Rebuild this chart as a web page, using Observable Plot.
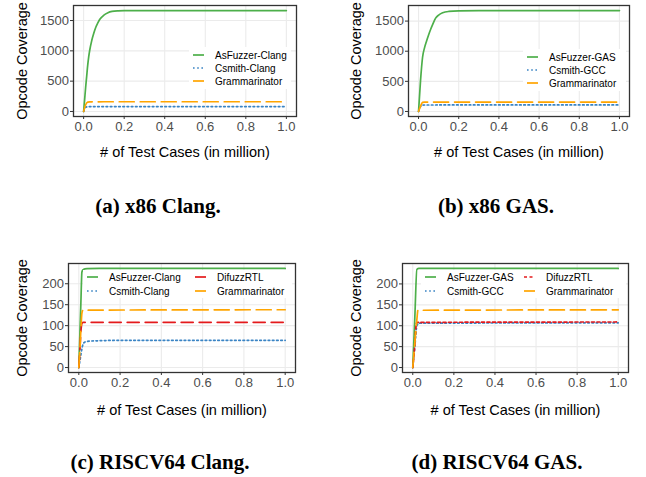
<!DOCTYPE html>
<html><head><meta charset="utf-8">
<script src="https://cdn.jsdelivr.net/npm/d3@7"></script>
<script src="https://cdn.jsdelivr.net/npm/@observablehq/plot@0.6"></script>
<style>
body{margin:0;background:#fff;}
#wrap{position:relative;width:646px;height:477px;overflow:hidden;background:#fff;}
.panel{position:absolute;}
.cap{position:absolute;font-family:"Liberation Serif","Times New Roman",serif;font-weight:bold;font-size:21px;white-space:nowrap;transform:translateX(-50%);color:#000;line-height:1;}
</style></head><body><div id="wrap"></div>
<script>
// ---------- tick labels ----------
const xTicks = [0, 0.2, 0.4, 0.6, 0.8, 1.0];
const yTicksX86 = [0, 500, 1000, 1500];
const yTicksRV = [0, 50, 100, 150, 200];
const xTitle = "# of Test Cases (in million)";
const yTitle = "Opcode Coverage";
const captions = ["(a) x86 Clang.", "(b) x86 GAS.", "(c) RISCV64 Clang.", "(d) RISCV64 GAS."];

// ---------- (a) x86 Clang ----------
const aAsFuzzerX = [0, 0.005, 0.01, 0.015, 0.02, 0.025, 0.03, 0.04, 0.05, 0.06, 0.07, 0.08, 0.1, 0.12, 0.14, 0.17, 0.2, 0.3, 0.5, 1.0];
const aAsFuzzerY = [0, 200, 400, 580, 760, 900, 1010, 1170, 1290, 1390, 1460, 1520, 1590, 1630, 1650, 1660, 1663, 1664, 1665, 1665];
const aCsmithX = [0, 0.01, 0.02, 0.05, 0.2, 1.0];
const aCsmithY = [0, 70, 78, 80, 80, 80];
const aGrammX = [0, 0.01, 0.02, 0.03, 0.1, 1.0];
const aGrammY = [0, 110, 155, 158, 160, 160];

// ---------- (b) x86 GAS ----------
const bAsFuzzerX = [0, 0.01, 0.02, 0.03, 0.04, 0.05, 0.06, 0.07, 0.085, 0.1, 0.12, 0.15, 0.2, 0.3, 1.0];
const bAsFuzzerY = [0, 520, 900, 1060, 1170, 1270, 1360, 1440, 1550, 1600, 1638, 1660, 1670, 1673, 1675];
const bCsmithX = [0, 0.01, 0.015, 0.03, 0.2, 1.0];
const bCsmithY = [0, 80, 104, 107, 108, 108];
const bGrammX = [0, 0.01, 0.02, 0.03, 0.1, 1.0];
const bGrammY = [0, 90, 150, 155, 156, 156];

// ---------- (c) RISCV64 Clang ----------
const cAsFuzzerX = [0, 0.005, 0.01, 0.015, 0.02, 0.03, 0.04, 0.1, 1.0];
const cAsFuzzerY = [0, 78, 155, 228, 233, 235.5, 236, 236.5, 236.5];
const cCsmithX = [0, 0.005, 0.01, 0.015, 0.02, 0.03, 0.05, 0.1, 0.2, 1.0];
const cCsmithY = [0, 15, 30, 45, 55, 61, 63, 64, 65, 65];
const cDifuzzX = [0, 0.005, 0.01, 0.015, 0.02, 1.0];
const cDifuzzY = [0, 40, 85, 105, 108, 108];
const cGrammX = [0, 0.005, 0.01, 0.015, 0.02, 1.0];
const cGrammY = [0, 40, 90, 130, 137, 138];

// ---------- (d) RISCV64 GAS ----------
const dAsFuzzerX = [0, 0.01, 0.02, 0.03, 1.0];
const dAsFuzzerY = [0, 120, 235, 237, 237];
const dCsmithX = [0, 0.01, 0.02, 0.03, 1.0];
const dCsmithY = [0, 50, 100, 106, 107];
const dDifuzzX = [0, 0.01, 0.015, 0.02, 1.0];
const dDifuzzY = [0, 55, 95, 108, 109];
const dGrammX = [0, 0.01, 0.02, 0.025, 1.0];
const dGrammY = [0, 60, 115, 137, 138];

// ---------- styles (not data) ----------
const styleOf = {
  AsFuzzer: {stroke: "#4daf4a", dash: null},
  Csmith: {stroke: "#3a84c4", dash: "1.6,2.6"},
  DifuzzRTL: {stroke: "#e41a1c", dash: "12,6"},
  DifuzzRTLshort: {stroke: "#e41a1c", dash: "3,2.5"},
  Grammarinator: {stroke: "#ffa500", dash: "15,6"}
};
const LW = 1.7;
const FONT = "'Liberation Sans', Arial, Helvetica, sans-serif";

const zipXY = (xs, ys) => xs.map((x, i) => ({x, y: ys[i]}));

const panels = [
  {left: 0, top: 0, width: 320, height: 170, mL: 73, mR: 24, mT: 5, mB: 54, yTicks: yTicksX86,
   yTitleDx: -51, xTitleDy: 36,
   series: [
     {label: "AsFuzzer-Clang", style: "AsFuzzer", xs: aAsFuzzerX, ys: aAsFuzzerY},
     {label: "Csmith-Clang", style: "Csmith", xs: aCsmithX, ys: aCsmithY},
     {label: "Grammarinator", style: "Grammarinator", xs: aGrammX, ys: aGrammY}],
   legend: {bg: [189, 47, 102, 42], rows: [[193, 55], [193, 68], [193, 81]]},
   cap: {x: 158, y: 196}},
  {left: 320, top: 0, width: 326, height: 170, mL: 88, mR: 17, mT: 5, mB: 54, yTicks: yTicksX86,
   yTitleDx: -52, xTitleDy: 36,
   series: [
     {label: "AsFuzzer-GAS", style: "AsFuzzer", xs: bAsFuzzerX, ys: bAsFuzzerY},
     {label: "Csmith-GCC", style: "Csmith", xs: bCsmithX, ys: bCsmithY},
     {label: "Grammarinator", style: "Grammarinator", xs: bGrammX, ys: bGrammY}],
   legend: {bg: [523, 49, 103, 42], rows: [[527, 57], [527, 70], [527, 83]]},
   cap: {x: 496, y: 196}},
  {left: 0, top: 240, width: 320, height: 180, mL: 68, mR: 25, mT: 23, mB: 48, yTicks: yTicksRV,
   yTitleDx: -46, xTitleDy: 38,
   series: [
     {label: "AsFuzzer-Clang", style: "AsFuzzer", xs: cAsFuzzerX, ys: cAsFuzzerY},
     {label: "Csmith-Clang", style: "Csmith", xs: cCsmithX, ys: cCsmithY},
     {label: "DifuzzRTL", style: "DifuzzRTL", xs: cDifuzzX, ys: cDifuzzY},
     {label: "Grammarinator", style: "Grammarinator", xs: cGrammX, ys: cGrammY}],
   legend: {bg: [83, 270, 209, 28], rows: [[87, 277], [87, 291], [195, 277], [195, 291]]},
   cap: {x: 160, y: 452}},
  {left: 320, top: 240, width: 326, height: 180, mL: 82, mR: 18, mT: 23, mB: 48, yTicks: yTicksRV,
   yTitleDx: -46.5, xTitleDy: 38,
   series: [
     {label: "AsFuzzer-GAS", style: "AsFuzzer", xs: dAsFuzzerX, ys: dAsFuzzerY},
     {label: "Csmith-GCC", style: "Csmith", xs: dCsmithX, ys: dCsmithY},
     {label: "DifuzzRTL", style: "DifuzzRTLshort", xs: dDifuzzX, ys: dDifuzzY},
     {label: "Grammarinator", style: "Grammarinator", xs: dGrammX, ys: dGrammY}],
   legend: {bg: [421, 270, 205, 28], rows: [[425, 277], [425, 291], [524, 277], [524, 291]]},
   cap: {x: 497, y: 452}}
];

const wrap = document.getElementById("wrap");

panels.forEach((p, pi) => {
  const ymax = d3.max(p.series, s => d3.max(s.ys));
  const lineMarks = p.series.map(s => {
    const st = styleOf[s.style];
    return Plot.line(zipXY(s.xs, s.ys), {
      x: "x", y: "y", stroke: st.stroke, strokeWidth: LW,
      strokeDasharray: st.dash || undefined, curve: "monotone-x"
    });
  });
  const svg = Plot.plot({
    width: p.width, height: p.height,
    marginLeft: p.mL, marginRight: p.mR, marginTop: p.mT, marginBottom: p.mB,
    style: {fontFamily: FONT, background: "white", color: "#000", overflow: "visible"},
    x: {domain: [-0.05, 1.05]},
    y: {domain: [-0.05 * ymax, 1.05 * ymax]},
    marks: [
      Plot.gridX(xTicks, {stroke: "#ebebeb", strokeOpacity: 1, strokeWidth: 1.1}),
      Plot.gridY(p.yTicks, {stroke: "#ebebeb", strokeOpacity: 1, strokeWidth: 1.1}),
      ...lineMarks,
      Plot.frame({stroke: "#333", strokeWidth: 1.3}),
      Plot.axisX(xTicks, {tickSize: 3, tickPadding: 2, fontSize: 13, stroke: "#333", fill: "#4d4d4d",
        tickFormat: d3.format(".1f"), label: null}),
      Plot.axisY(p.yTicks, {tickSize: 3, tickPadding: 1.5, fontSize: 13, stroke: "#333", fill: "#4d4d4d",
        tickFormat: d3.format("d"), label: null}),
      Plot.text([xTitle], {text: d => d, frameAnchor: "bottom", dy: p.xTitleDy, lineAnchor: "middle",
        fontSize: 14.5, fill: "#000"}),
      Plot.text([yTitle], {text: d => d, frameAnchor: "left", dx: p.yTitleDx, rotate: -90,
        lineAnchor: "middle", textAnchor: "middle", fontSize: 14.5, fill: "#000"})
    ]
  });
  svg.classList.add("panel");
  svg.style.left = p.left + "px";
  svg.style.top = p.top + "px";
  wrap.appendChild(svg);

  // legend
  const g = d3.select(svg).append("g").attr("font-family", FONT).attr("font-size", 10)
    .attr("text-anchor", "start");
  const [bx, by, bw, bh] = p.legend.bg;
  g.append("rect").attr("x", bx - p.left).attr("y", by - p.top).attr("width", bw).attr("height", bh).attr("fill", "white");
  p.series.forEach((s, i) => {
    const st = styleOf[s.style];
    const [lx, ly] = p.legend.rows[i];
    g.append("line").attr("x1", lx - p.left).attr("x2", lx - p.left + 11)
      .attr("y1", ly - p.top).attr("y2", ly - p.top)
      .attr("stroke", st.stroke).attr("stroke-width", LW)
      .attr("stroke-dasharray", st.dash || null);
    g.append("text").attr("x", lx - p.left + 22).attr("y", ly - p.top).attr("dy", "0.35em")
      .attr("text-anchor", "start").attr("fill", "#000").text(s.label);
  });

  const cap = document.createElement("div");
  cap.className = "cap";
  cap.textContent = captions[pi];
  cap.style.left = p.cap.x + "px";
  cap.style.top = p.cap.y + "px";
  wrap.appendChild(cap);
});
</script></body></html>
